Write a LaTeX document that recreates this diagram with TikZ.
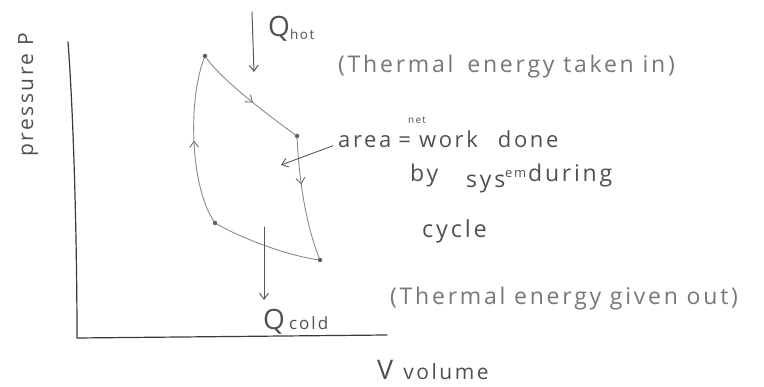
\documentclass[tikz,border=0pt]{standalone}
\usepackage{fontspec}
\setmainfont{Open Sans}
\newfontfamily\hand[LetterSpace=12]{Open Sans}
\usetikzlibrary{arrows.meta,decorations.markings}
\definecolor{ink}{HTML}{505050}
\definecolor{lightink}{HTML}{777777}
\definecolor{axisink}{HTML}{3A3A3A}
\definecolor{cycink}{HTML}{8A8A8A}
\newcommand{\fs}[1]{\fontsize{#1}{#1}\selectfont}
\begin{document}
\begin{tikzpicture}[x=1pt,y=-1pt,
  axisline/.style={draw=axisink, line width=1.2pt, line cap=round},
  cycline/.style={draw=cycink, line width=0.9pt, line cap=round},
  heatarrow/.style={draw=axisink!85, line width=1pt, line cap=round, -{Straight Barb[length=6pt,width=9pt]}},
  midarrow/.style={postaction={decorate},decoration={markings,mark=at position #1 with {\arrow[cycink!80!black]{Straight Barb[length=6pt,width=9pt]}}}},
  statedot/.style={circle, fill=cycink!70!black, inner sep=0pt, minimum size=4.5pt},
  txt/.style={text=ink, inner sep=0pt, font=\hand},
  lighttxt/.style={text=lightink, inner sep=0pt, font=\hand}]
\useasboundingbox (0,0) rectangle (764,387);

% axes
\coordinate (ytop) at (68,42);
\coordinate (orig) at (77,338);
\coordinate (xend) at (387,335);
\draw[axisline] (ytop) .. controls (74,120) and (77,250) .. (orig) -- (xend);

% state points
\node[statedot] (A) at (205,56) {};
\node[statedot] (B) at (297,136) {};
\node[statedot] (C) at (320,260) {};
\node[statedot] (D) at (215,223) {};

% cycle
\draw[cycline, midarrow=0.55] (A) .. controls (220,78) and (265,113) .. (B);
\draw[cycline, midarrow=0.38] (B) .. controls (299,180) and (306,225) .. (C);
\draw[cycline] (C) .. controls (290,256) and (245,240) .. (D);
\draw[cycline, midarrow=0.5] (D) .. controls (190,185) and (188,100) .. (A);

% heat arrows
\coordinate (qh1) at (252,12);
\coordinate (qh2) at (254,72);
\draw[heatarrow] (qh1) -- (qh2);
\coordinate (qc1) at (264,227);
\coordinate (qc2) at (264,300);
\draw[heatarrow] (qc1) -- (qc2);

% labels
\node[txt, rotate=90, anchor=base west] (plabel) at (33,157) {\fs{21}pressure P};
\node[txt, anchor=base west] (qhot) at (268,37) {\fs{28}Q\raisebox{-3pt}{\fs{13.5}hot}};
\node[lighttxt, anchor=base west] (thin) at (338,73) {\fs{23}(Thermal\hspace{14pt}energy taken in)};
\node[txt, anchor=base west] (area) at (338,148) {\fs{22}area\hspace{7pt}=\hspace{8pt}work\hspace{20pt}done};
\node[txt, anchor=base west] (net) at (408,124) {\fs{10}net};
\node[txt, anchor=base west] (bysys) at (410,182) {\fs{23}by\hspace{28pt}\raisebox{-6pt}{sys}\raisebox{4pt}{\fs{13}em}\hspace{2pt}during};
\node[txt, anchor=base west] (cyc) at (422,238) {\fs{23.5}cycle};
\node[lighttxt, anchor=base west] (tout) at (390,305) {\fs{23}(Thermal energy given out)};
\node[txt, anchor=base west] (qcold) at (263,330) {\fs{28}Q\hspace{4pt}\fs{17}cold};
\node[txt, anchor=base west] (vlabel) at (377,380) {\fs{27}V\hspace{10pt}\fs{21}volume};

% area pointer
\coordinate (areatip) at (281,165);
\draw[heatarrow, line width=0.9pt] ([xshift=-5pt,yshift=-6pt]area.west) -- (areatip);
\end{tikzpicture}
\end{document}
